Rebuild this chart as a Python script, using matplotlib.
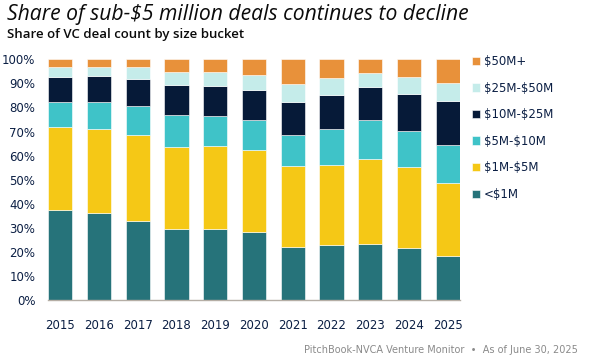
import matplotlib
matplotlib.use("Agg")
import matplotlib.pyplot as plt
from matplotlib import font_manager as fm
import numpy as np

years = ["2015", "2016", "2017", "2018", "2019", "2020", "2021", "2022", "2023", "2024", "2025"]
under_1m   = [37.5, 36.0, 32.8, 29.4, 29.6, 28.1, 21.9, 22.9, 23.1, 21.5, 18.4]
m1_5       = [34.4, 35.1, 35.8, 34.3, 34.4, 34.2, 33.6, 33.2, 35.5, 33.8, 30.2]
m5_10      = [10.5, 11.0, 11.9, 13.0, 12.5, 12.5, 12.9, 15.0, 16.2, 15.1, 15.7]
m10_25     = [10.1, 10.8, 11.3, 12.8, 12.6, 12.3, 14.0, 14.2, 13.6, 15.3, 18.5]
m25_50     = [4.2, 4.1, 4.9, 5.2, 5.6, 6.3, 7.4, 7.1, 6.1, 7.0, 7.2]
m50_plus   = [3.3, 3.0, 3.3, 5.3, 5.3, 6.6, 10.2, 7.6, 5.5, 7.3, 10.0]

series_names = ["<$1M", "$1M-$5M", "$5M-$10M", "$10M-$25M", "$25M-$50M", "$50M+"]
series_vals = [under_1m, m1_5, m5_10, m10_25, m25_50, m50_plus]
colors = ["#26737A", "#F5C816", "#3FC3C8", "#061A38", "#C5ECEA", "#E8913A"]

plt.rcParams["text.parse_math"] = False

names = {f.name for f in fm.fontManager.ttflist}
cond = "Liberation Sans Narrow" if "Liberation Sans Narrow" in names else "DejaVu Sans"
text_col = "#0B1F44"

fig = plt.figure(figsize=(5.91, 3.64), dpi=100)
ax = fig.add_axes([48/591, 64/364, (460-48)/591, (300-59.3)/364])

x = np.arange(len(years))
bottom = np.zeros(len(years))
handles = []
for name, vals, c in zip(series_names, series_vals, colors):
    v = np.array(vals)
    b = ax.bar(x, v, bottom=bottom, width=0.63, color=c, edgecolor="white",
               linewidth=0.4, label=name)
    handles.append(b)
    bottom += v

ax.set_xlim(-0.315, len(years) - 1 + 0.315)
ax.set_ylim(0, 100)
ax.set_yticks(np.arange(0, 101, 10))
ax.set_yticklabels([f"{t}%" for t in range(0, 101, 10)], fontsize=8.5,
                   color=text_col, family=cond)
ax.set_xticks(x)
ax.set_xticklabels(years, fontsize=8.5, color=text_col, family=cond)
ax.tick_params(axis="both", length=0)
ax.tick_params(axis="y", pad=9)
ax.tick_params(axis="x", pad=14)
for s in ["top", "right", "left"]:
    ax.spines[s].set_visible(False)
ax.spines["bottom"].set_color("#B5AEA5")
ax.spines["bottom"].set_linewidth(1.0)

leg = fig.legend(handles[::-1], series_names[::-1], loc="upper left",
                 bbox_to_anchor=(472/591, 1 - 55/364), frameon=False,
                 prop={"family": cond, "size": 8.5}, handlelength=0.7,
                 handleheight=0.7, handletextpad=0.3, labelspacing=1.15,
                 borderaxespad=0, borderpad=0)
for t in leg.get_texts():
    t.set_color(text_col)

fig.text(7/591, 1 - 20/364, "Share of sub-$5 million deals continues to decline",
         fontsize=15.2, style="italic", color="#0B0B0B", family="Open Sans",
         va="baseline", ha="left")
fig.text(7/591, 1 - 38/364, "Share of VC deal count by size bucket",
         fontsize=9.5, weight="semibold", color="#0B0B0B", family="Open Sans",
         va="baseline", ha="left")
fig.text(578/591, 1 - 353/364, "PitchBook-NVCA Venture Monitor  \u2022  As of June 30, 2025",
         fontsize=7, color="#8A8A8A", family=cond, ha="right", va="baseline")

fig.savefig("out.png", dpi=100)
